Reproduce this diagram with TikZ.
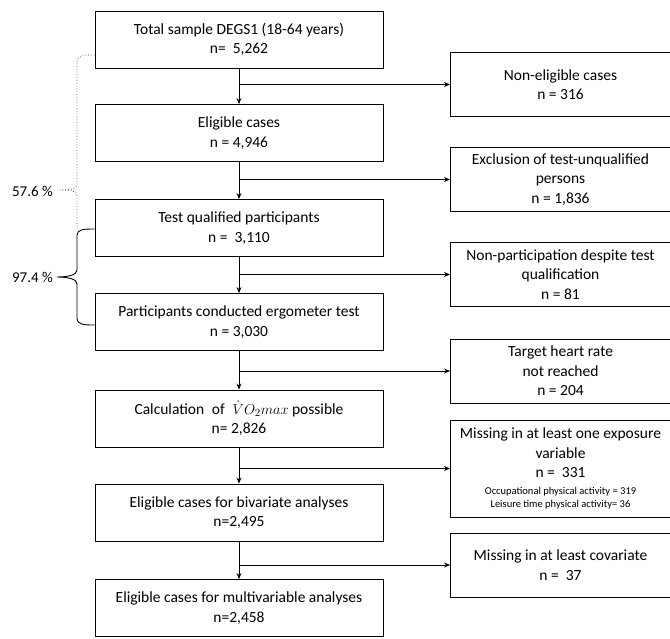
\documentclass[tikz,border=0pt]{standalone}
\usepackage{fontspec}
\setmainfont{Carlito}
\usetikzlibrary{arrows.meta}
\begin{document}
\begin{tikzpicture}[x=1pt,y=-1pt,
  box/.style={draw,line width=0.9pt,align=center,inner sep=0pt,font=\fontsize{15.5}{19.5}\selectfont},
  mainbox/.style={box,minimum width=288pt,minimum height=57pt},
  sidebox/.style={box,minimum width=220pt,minimum height=64pt},
  arr/.style={line width=0.9pt,-{Stealth[length=6pt,width=5pt]}},
  ln/.style={line width=0.9pt},
  lbl/.style={font=\fontsize{15}{17}\selectfont,inner sep=0pt}]
\useasboundingbox (0,0) rectangle (670,638);
\node[mainbox] (m1) at (239,39.5) {Total sample DEGS1 (18-64 years)\\n=~ 5,262};
\node[mainbox] (m2) at (239,133) {Eligible cases\\n = 4,946};
\node[mainbox] (m3) at (239,228) {Test qualified participants\\n =~ 3,110};
\node[mainbox] (m4) at (239,322) {Participants conducted ergometer test\\n = 3,030};
\node[mainbox] (m5) at (239,418.5) {Calculation\enspace of\enspace$\dot{V}O_2max$ possible\\n= 2,826};
\node[mainbox] (m6) at (239,512.5) {Eligible cases for bivariate analyses\\n=2,495};
\node[mainbox] (m7) at (239,608) {Eligible cases for multivariable analyses\\n=2,458};

\node[sidebox] (s1) at (560.5,84.5) {Non-eligible cases\\n = 316};
\node[sidebox] (s2) at (560.5,179.5) {Exclusion of test-unqualified\\persons\\n = 1,836};
\node[sidebox] (s3) at (560.5,274.5) {Non-participation despite test\\qualification\\n = 81};
\node[sidebox] (s4) at (560.5,371) {Target heart rate\\not reached\\n = 204};
\node[sidebox,minimum height=97pt] (s5) at (560.5,468.5) {Missing in at least one exposure\\variable\\n =~ 331\\[-3pt]{\fontsize{10.5}{11}\selectfont Occupational physical activity = 319}\\[-6pt]{\fontsize{10.5}{11}\selectfont Leisure time physical activity= 36}};
\node[sidebox] (s6) at (560.5,565) {Missing in at least covariate\\n =~ 37};

\foreach \a/\b/\s in {m1/m2/s1,m2/m3/s2,m3/m4/s3,m4/m5/s4,m5/m6/s5,m6/m7/s6}{
  \draw[arr] (\a.south) -- (\b.north);
  \draw[arr] (\a.south |- \s.west) coordinate (j\s) -- (\s.west);
}

% dotted brace 57.6 %
\coordinate (d1) at (m1.west |- 0,55);
\draw[line width=0.8pt,dotted,gray!70!black]
  (d1) .. controls (85,55) and (77,55) .. (77,62) -- (77,185)
  .. controls (77,189) and (70,190) .. (60,190)
  .. controls (70,190) and (77,191) .. (77,195) -- (77,230);
\node[lbl,anchor=east] (p1) at (53,191) {57.6 \%};

% solid brace 97.4 %
\coordinate (b1) at (m3.west |- 0,229);
\coordinate (b2) at (m4.west |- 0,325);
\draw[ln]
  (b1) .. controls (85,229) and (77,229) .. (77,235) -- (77,270)
  .. controls (77,275) and (68,277) .. (57,277)
  .. controls (68,277) and (77,279) .. (77,284) -- (77,318)
  .. controls (77,325) and (85,325) .. (b2);
\node[lbl,anchor=east] (p2) at (53,277) {97.4 \%};
\end{tikzpicture}
\end{document}
